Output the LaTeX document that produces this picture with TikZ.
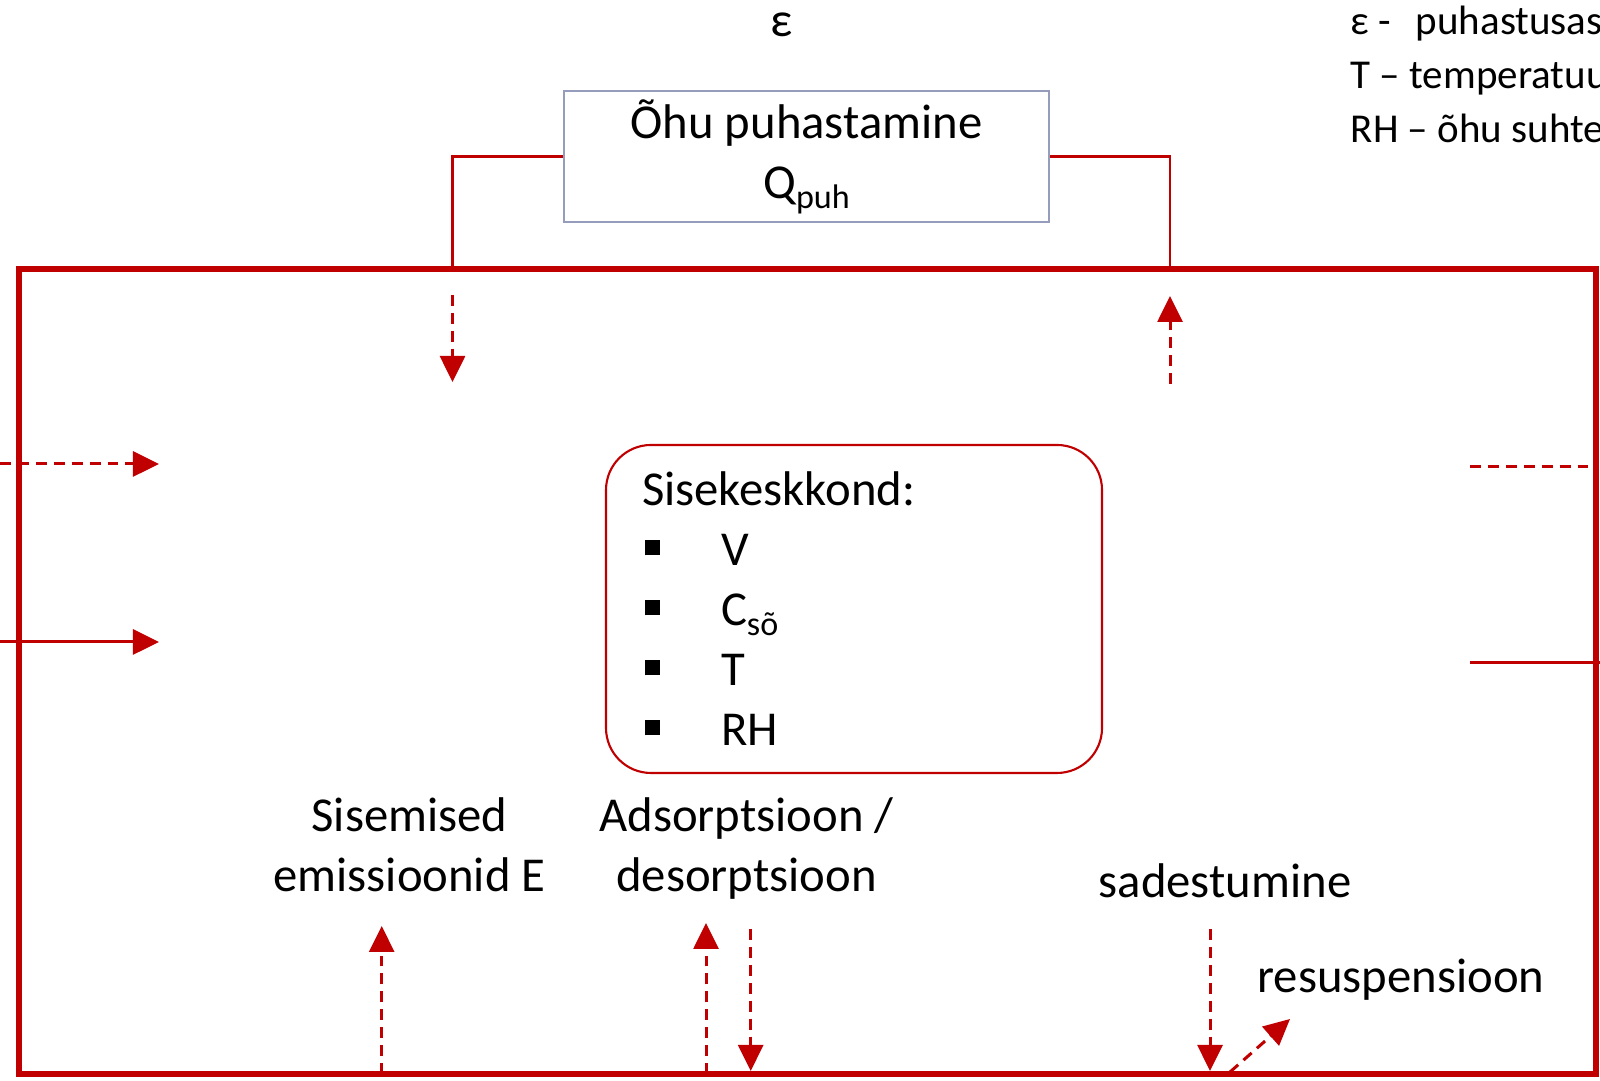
\documentclass[tikz,border=0pt]{standalone}
\usepackage{fontspec}
\setmainfont{Carlito}
\usetikzlibrary{arrows.meta,positioning}

\definecolor{darkred}{RGB}{192,0,0}
\definecolor{boxgray}{RGB}{150,156,188}

% square bullet for the room list
\newcommand{\sqbullet}{\hspace{0.03cm}\raisebox{0.105cm}{\rule{0.15cm}{0.15cm}}\hspace{0.61cm}}
% lowered index text
\newcommand{\lowidx}[1]{\raisebox{-0.1cm}{\fontsize{9.7}{10}\selectfont #1}}

\begin{document}
\begin{tikzpicture}[
    font=\fontsize{13.86}{17.07}\selectfont,
    wall/.style={draw=darkred, line width=1.7pt},
    link/.style={draw=darkred, line width=0.6pt},
    flow/.style={draw=darkred, line width=0.85pt, -{Triangle[length=7.4pt,width=7.1pt]}},
    dflow/.style={flow, dash pattern=on 3.1pt off 2pt},
    dline/.style={draw=darkred, line width=0.85pt, dash pattern=on 3.1pt off 2pt},
    legend/.style={anchor=base west, inner sep=0pt, font=\fontsize{11.67}{14}\selectfont},
    lbl/.style={anchor=base, inner sep=0pt}
  ]
  \useasboundingbox (0,0) rectangle (16,10.81);
  \clip (0,0) rectangle (16,10.81);

  % Room outline
  \draw[wall] (0.19,0.07) rectangle (15.96,8.115);

  % Air cleaner
  \node[lbl] (eps) at (7.82,10.44) {ε};
  \node[draw=boxgray, line width=0.7pt, minimum width=4.85cm, minimum height=1.31cm,
        align=center, inner sep=0pt] (puh) at (8.065,9.245) {Õhu puhastamine\\Q\lowidx{puh}};
  \coordinate (inL) at (4.525,8.115);
  \coordinate (inR) at (11.70,8.115);
  \draw[link] (puh.west) -| (inL);
  \draw[link] (puh.east) -| (inR);

  % Legend
  \node[legend] (leg1) at (13.50,10.46) {ε -\ \ \hspace{0.06cm}puhastusaste};
  \node[legend] (leg2) at (13.50,9.92) {T – temperatuur};
  \node[legend] (leg3) at (13.50,9.38) {RH – õhu suhteline niiskus};

  % Supply and return of the cleaner
  \coordinate (dnA) at (4.525,7.86);
  \coordinate (dnB) at (4.525,6.99);
  \coordinate (upA) at (11.70,6.97);
  \coordinate (upB) at (11.70,7.85);
  \draw[dflow] (dnA) -- (dnB);
  \draw[dflow] (upA) -- (upB);

  % Inflow
  \coordinate (lA) at (0,6.17);
  \coordinate (lB) at (1.59,6.17);
  \coordinate (lC) at (0,4.39);
  \coordinate (lD) at (1.59,4.39);
  \draw[dflow] (lA) -- (lB);
  \draw[flow] (lC) -- (lD);

  % Outflow
  \coordinate (rA) at (14.70,6.14);
  \coordinate (rB) at (15.96,6.14);
  \coordinate (rC) at (14.70,4.18);
  \coordinate (rD) at (16.00,4.18);
  \draw[dline] (rA) -- (rB);
  \draw[link, line width=0.85pt] (rC) -- (rD);

  % Indoor air
  \node[draw=darkred, line width=0.6pt, rounded corners=0.45cm, text width=4.24cm,
        align=left, inner xsep=0.36cm, minimum height=3.28cm] (room) at (8.54,4.72)
        {Sisekeskkond:\\\sqbullet V\\\sqbullet C\lowidx{sõ}\\\sqbullet T\\\sqbullet RH};

  % Processes at the surfaces
  \node[lbl] (sis1) at (4.095,2.49) {Sisemised};
  \node[lbl] (sis2) at (4.095,1.89) {emissioonid E};
  \node[lbl] (ads1) at (7.465,2.49) {Adsorptsioon /};
  \node[lbl] (ads2) at (7.465,1.89) {desorptsioon};
  \node[lbl] (sad) at (12.25,1.83) {sadestumine};
  \node[lbl] (res) at (14.01,0.88) {resuspensioon};

  \coordinate (eA) at (3.817,0.07);
  \coordinate (eB) at (3.817,1.55);
  \coordinate (aA) at (7.06,0.07);
  \coordinate (aB) at (7.06,1.58);
  \coordinate (dA) at (7.507,1.52);
  \coordinate (dB) at (7.507,0.10);
  \coordinate (sA) at (12.10,1.52);
  \coordinate (sB) at (12.10,0.10);
  \coordinate (rsA) at (12.30,0.09);
  \coordinate (rsB) at (12.90,0.62);
  \draw[dflow] (eA) -- (eB);
  \draw[dflow] (aA) -- (aB);
  \draw[dflow] (dA) -- (dB);
  \draw[dflow] (sA) -- (sB);
  \draw[dflow] (rsA) -- (rsB);
\end{tikzpicture}
\end{document}
